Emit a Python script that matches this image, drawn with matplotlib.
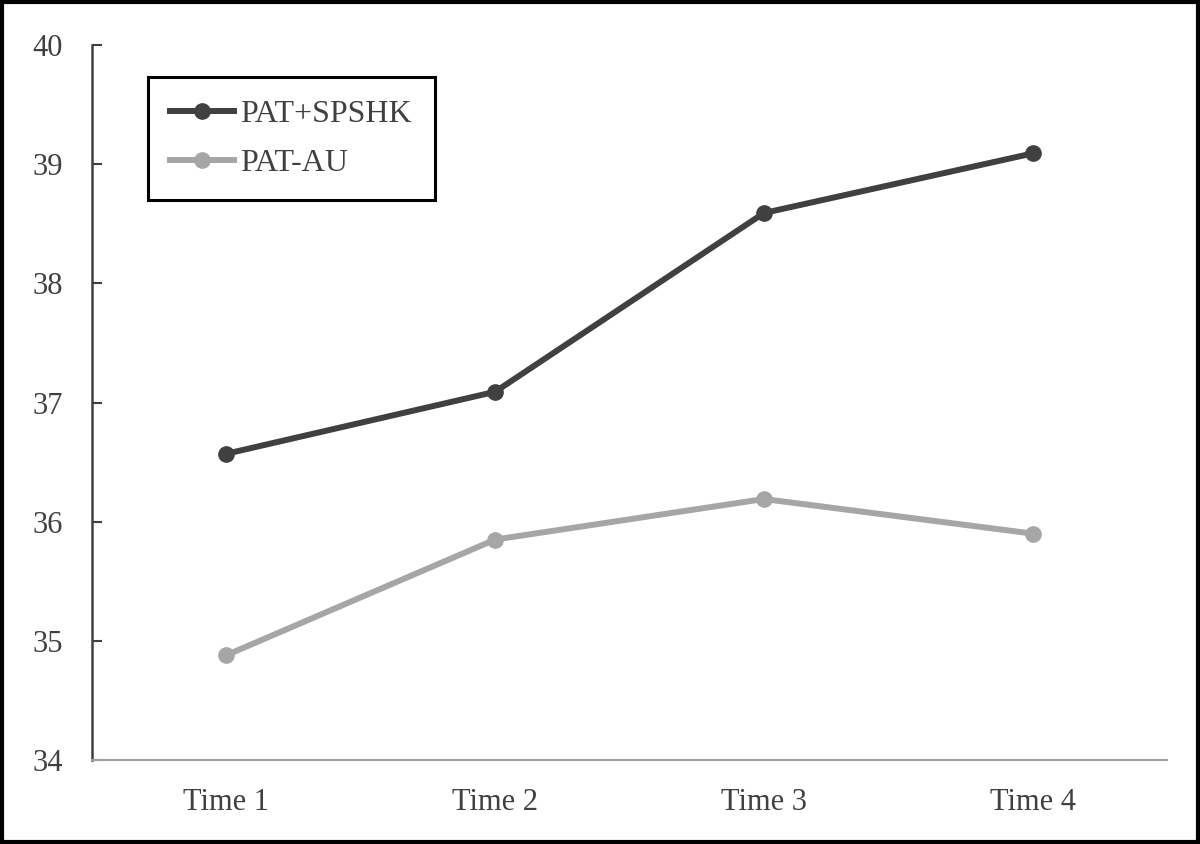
import matplotlib
matplotlib.use("Agg")
import matplotlib.pyplot as plt
from matplotlib.patches import Rectangle

# data
times = ["Time 1", "Time 2", "Time 3", "Time 4"]
pat_spshk = [36.57, 37.09, 38.59, 39.09]
pat_au = [34.88, 35.85, 36.19, 35.90]

plt.rcParams['font.family'] = ['Liberation Serif', 'DejaVu Serif']
text_col = '#404040'

fig = plt.figure(figsize=(12, 8.44), dpi=100)
ax = fig.add_axes([0.0767, 0.0995, 0.8958, 0.8472])

x = range(len(times))
ax.plot(x, pat_spshk, color='#404040', lw=4.3, marker='o', ms=11, label='PAT+SPSHK', zorder=3)
ax.plot(x, pat_au, color='#a6a6a6', lw=4.3, marker='o', ms=11, label='PAT-AU', zorder=3)

ax.set_xlim(-0.5, len(times) - 0.5)
ax.set_ylim(34, 40)
ax.set_xticks(list(x))
ax.set_xticklabels(times)
ax.set_yticks(range(34, 41))

ax.tick_params(axis='x', length=0, pad=20, labelsize=22, labelcolor=text_col)
ax.tick_params(axis='y', direction='in', length=7, width=1.5, color='#404040',
               pad=21, labelsize=22, labelcolor=text_col)

for s in ['top', 'right']:
    ax.spines[s].set_visible(False)
ax.spines['left'].set_color('#404040')
ax.spines['left'].set_linewidth(1.8)
ax.spines['bottom'].set_color('#a0a0a0')
ax.spines['bottom'].set_linewidth(1.5)

leg = ax.legend(loc='upper left', bbox_to_anchor=(0.052, 0.955), borderaxespad=0,
                fontsize=23, handlelength=2.0, handletextpad=0.2, labelspacing=0.62,
                borderpad=0.7, fancybox=False, framealpha=1, edgecolor='black')
leg.get_frame().set_linewidth(2.2)
for t in leg.get_texts():
    t.set_color(text_col)

# figure border
fig.patches.append(Rectangle((0.0015, 0.002), 0.997, 0.996, transform=fig.transFigure,
                             fill=False, edgecolor='black', lw=3))

fig.savefig('out.png', dpi=100)
